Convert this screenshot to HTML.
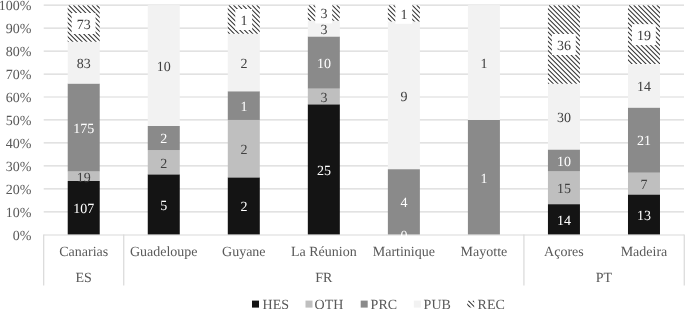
<!DOCTYPE html>
<html lang="en"><head><meta charset="utf-8"><title>Chart</title>
<style>html,body{margin:0;padding:0;background:#fff}svg{display:block}</style></head>
<body>
<svg width="685" height="309" viewBox="0 0 685 309" font-family="'Liberation Serif', 'Times New Roman', serif" font-size="14px" text-rendering="geometricPrecision">
<defs><path id="hl" d="M-87.16 0l84 84M-82.52 0l84 84M-77.88 0l84 84M-73.24 0l84 84M-68.60 0l84 84M-63.96 0l84 84M-59.32 0l84 84M-54.68 0l84 84M-50.04 0l84 84M-45.40 0l84 84M-40.76 0l84 84M-36.12 0l84 84M-31.48 0l84 84M-26.84 0l84 84M-22.20 0l84 84M-17.56 0l84 84M-12.92 0l84 84M-8.28 0l84 84M-3.64 0l84 84M1.00 0l84 84M5.64 0l84 84M10.28 0l84 84M14.92 0l84 84M19.56 0l84 84M24.20 0l84 84M28.84 0l84 84M33.48 0l84 84" stroke="#343434" stroke-width="1.06" fill="none"/></defs>
<rect width="685" height="309" fill="#fff"/>
<text x="31.3" y="240" text-anchor="end" fill="#595959">0%</text>
<line x1="43.7" x2="684.0" y1="211.79" y2="211.79" stroke="#d9d9d9" stroke-width="1.2"/>
<text x="31.3" y="217" text-anchor="end" fill="#595959">10%</text>
<line x1="43.7" x2="684.0" y1="188.83" y2="188.83" stroke="#d9d9d9" stroke-width="1.2"/>
<text x="31.3" y="194" text-anchor="end" fill="#595959">20%</text>
<line x1="43.7" x2="684.0" y1="165.87" y2="165.87" stroke="#d9d9d9" stroke-width="1.2"/>
<text x="31.3" y="171" text-anchor="end" fill="#595959">30%</text>
<line x1="43.7" x2="684.0" y1="142.91" y2="142.91" stroke="#d9d9d9" stroke-width="1.2"/>
<text x="31.3" y="148" text-anchor="end" fill="#595959">40%</text>
<line x1="43.7" x2="684.0" y1="119.95" y2="119.95" stroke="#d9d9d9" stroke-width="1.2"/>
<text x="31.3" y="125" text-anchor="end" fill="#595959">50%</text>
<line x1="43.7" x2="684.0" y1="96.99" y2="96.99" stroke="#d9d9d9" stroke-width="1.2"/>
<text x="31.3" y="102" text-anchor="end" fill="#595959">60%</text>
<line x1="43.7" x2="684.0" y1="74.03" y2="74.03" stroke="#d9d9d9" stroke-width="1.2"/>
<text x="31.3" y="79" text-anchor="end" fill="#595959">70%</text>
<line x1="43.7" x2="684.0" y1="51.07" y2="51.07" stroke="#d9d9d9" stroke-width="1.2"/>
<text x="31.3" y="56" text-anchor="end" fill="#595959">80%</text>
<line x1="43.7" x2="684.0" y1="28.11" y2="28.11" stroke="#d9d9d9" stroke-width="1.2"/>
<text x="31.3" y="33" text-anchor="end" fill="#595959">90%</text>
<line x1="43.7" x2="684.0" y1="5.15" y2="5.15" stroke="#d9d9d9" stroke-width="1.2"/>
<text x="31.3" y="10" text-anchor="end" fill="#595959">100%</text>
<rect x="67.72" y="180.99" width="32" height="53.76" fill="#141414"/>
<rect x="67.72" y="171.45" width="32" height="9.55" fill="#bfbfbf"/>
<rect x="67.72" y="83.53" width="32" height="87.92" fill="#8a8a8a"/>
<rect x="67.72" y="41.83" width="32" height="41.70" fill="#f2f2f2"/>
<rect x="67.72" y="5.15" width="32" height="36.68" fill="#fff"/>
<svg x="67.72" y="5.15" width="32" height="36.68"><use href="#hl"/></svg>
<rect x="147.76" y="174.33" width="32" height="60.42" fill="#141414"/>
<rect x="147.76" y="150.16" width="32" height="24.17" fill="#bfbfbf"/>
<rect x="147.76" y="125.99" width="32" height="24.17" fill="#8a8a8a"/>
<rect x="147.76" y="5.15" width="32" height="120.84" fill="#f2f2f2"/>
<rect x="227.79" y="177.35" width="32" height="57.40" fill="#141414"/>
<rect x="227.79" y="119.95" width="32" height="57.40" fill="#bfbfbf"/>
<rect x="227.79" y="91.25" width="32" height="28.70" fill="#8a8a8a"/>
<rect x="227.79" y="33.85" width="32" height="57.40" fill="#f2f2f2"/>
<rect x="227.79" y="5.15" width="32" height="28.70" fill="#fff"/>
<svg x="227.79" y="5.15" width="32" height="28.70"><use href="#hl"/></svg>
<rect x="307.83" y="104.30" width="32" height="130.45" fill="#141414"/>
<rect x="307.83" y="88.64" width="32" height="15.65" fill="#bfbfbf"/>
<rect x="307.83" y="36.46" width="32" height="52.18" fill="#8a8a8a"/>
<rect x="307.83" y="20.80" width="32" height="15.65" fill="#f2f2f2"/>
<rect x="307.83" y="5.15" width="32" height="15.65" fill="#fff"/>
<svg x="307.83" y="5.15" width="32" height="15.65"><use href="#hl"/></svg>
<rect x="387.87" y="169.15" width="32" height="65.60" fill="#8a8a8a"/>
<rect x="387.87" y="21.55" width="32" height="147.60" fill="#f2f2f2"/>
<rect x="387.87" y="5.15" width="32" height="16.40" fill="#fff"/>
<svg x="387.87" y="5.15" width="32" height="16.40"><use href="#hl"/></svg>
<rect x="467.91" y="119.95" width="32" height="114.80" fill="#8a8a8a"/>
<rect x="467.91" y="5.15" width="32" height="114.80" fill="#f2f2f2"/>
<rect x="547.94" y="204.14" width="32" height="30.61" fill="#141414"/>
<rect x="547.94" y="171.34" width="32" height="32.80" fill="#bfbfbf"/>
<rect x="547.94" y="149.47" width="32" height="21.87" fill="#8a8a8a"/>
<rect x="547.94" y="83.87" width="32" height="65.60" fill="#f2f2f2"/>
<rect x="547.94" y="5.15" width="32" height="78.72" fill="#fff"/>
<svg x="547.94" y="5.15" width="32" height="78.72"><use href="#hl"/></svg>
<rect x="627.98" y="194.41" width="32" height="40.34" fill="#141414"/>
<rect x="627.98" y="172.70" width="32" height="21.72" fill="#bfbfbf"/>
<rect x="627.98" y="107.54" width="32" height="65.16" fill="#8a8a8a"/>
<rect x="627.98" y="64.10" width="32" height="43.44" fill="#f2f2f2"/>
<rect x="627.98" y="5.15" width="32" height="58.95" fill="#fff"/>
<svg x="627.98" y="5.15" width="32" height="58.95"><use href="#hl"/></svg>
<line x1="43.7" x2="684.0" y1="235.0" y2="235.0" stroke="#d9d9d9" stroke-width="1.2"/>
<text x="83.82" y="213" text-anchor="middle" fill="#ffffff">107</text>
<text x="83.82" y="182" text-anchor="middle" fill="#404040">19</text>
<text x="83.82" y="133" text-anchor="middle" fill="#ffffff">175</text>
<text x="83.82" y="68" text-anchor="middle" fill="#404040">83</text>
<rect x="71.67" y="12.99" width="23.90" height="21" fill="#fff"/>
<text x="83.82" y="29" text-anchor="middle" fill="#404040">73</text>
<text x="163.86" y="210" text-anchor="middle" fill="#ffffff">5</text>
<text x="163.86" y="168" text-anchor="middle" fill="#404040">2</text>
<text x="163.86" y="143" text-anchor="middle" fill="#ffffff">2</text>
<text x="163.86" y="71" text-anchor="middle" fill="#404040">10</text>
<text x="243.89" y="211" text-anchor="middle" fill="#ffffff">2</text>
<text x="243.89" y="154" text-anchor="middle" fill="#404040">2</text>
<text x="243.89" y="111" text-anchor="middle" fill="#ffffff">1</text>
<text x="243.89" y="68" text-anchor="middle" fill="#404040">2</text>
<rect x="235.24" y="9.00" width="16.90" height="21" fill="#fff"/>
<text x="243.89" y="25" text-anchor="middle" fill="#404040">1</text>
<text x="323.93" y="175" text-anchor="middle" fill="#ffffff">25</text>
<text x="323.93" y="102" text-anchor="middle" fill="#404040">3</text>
<text x="323.93" y="68" text-anchor="middle" fill="#ffffff">10</text>
<text x="323.93" y="34" text-anchor="middle" fill="#404040">3</text>
<rect x="315.28" y="2.48" width="16.90" height="21" fill="#fff"/>
<text x="323.93" y="18" text-anchor="middle" fill="#404040">3</text>
<text x="403.97" y="240" text-anchor="middle" fill="#ffffff">0</text>
<text x="403.97" y="207" text-anchor="middle" fill="#ffffff">4</text>
<text x="403.97" y="101" text-anchor="middle" fill="#404040">9</text>
<rect x="395.32" y="2.85" width="16.90" height="21" fill="#fff"/>
<text x="403.97" y="19" text-anchor="middle" fill="#404040">1</text>
<text x="484.01" y="183" text-anchor="middle" fill="#ffffff">1</text>
<text x="484.01" y="68" text-anchor="middle" fill="#404040">1</text>
<text x="564.04" y="225" text-anchor="middle" fill="#ffffff">14</text>
<text x="564.04" y="193" text-anchor="middle" fill="#404040">15</text>
<text x="564.04" y="166" text-anchor="middle" fill="#ffffff">10</text>
<text x="564.04" y="122" text-anchor="middle" fill="#404040">30</text>
<rect x="551.89" y="34.01" width="23.90" height="21" fill="#fff"/>
<text x="564.04" y="50" text-anchor="middle" fill="#404040">36</text>
<text x="644.08" y="220" text-anchor="middle" fill="#ffffff">13</text>
<text x="644.08" y="189" text-anchor="middle" fill="#404040">7</text>
<text x="644.08" y="145" text-anchor="middle" fill="#ffffff">21</text>
<text x="644.08" y="91" text-anchor="middle" fill="#404040">14</text>
<rect x="631.93" y="24.13" width="23.90" height="21" fill="#fff"/>
<text x="644.08" y="40" text-anchor="middle" fill="#404040">19</text>
<line x1="43.70" x2="43.70" y1="234.4" y2="285.6" stroke="#d9d9d9" stroke-width="1.2"/>
<line x1="123.74" x2="123.74" y1="234.4" y2="285.6" stroke="#d9d9d9" stroke-width="1.2"/>
<line x1="523.92" x2="523.92" y1="234.4" y2="285.6" stroke="#d9d9d9" stroke-width="1.2"/>
<line x1="684.25" x2="684.25" y1="234.4" y2="285.6" stroke="#d9d9d9" stroke-width="1.2"/>
<text x="83.72" y="256" text-anchor="middle" fill="#595959">Canarias</text>
<text x="163.76" y="256" text-anchor="middle" fill="#595959">Guadeloupe</text>
<text x="243.79" y="256" text-anchor="middle" fill="#595959">Guyane</text>
<text x="323.83" y="256" text-anchor="middle" fill="#595959">La Réunion</text>
<text x="403.87" y="256" text-anchor="middle" fill="#595959">Martinique</text>
<text x="483.91" y="256" text-anchor="middle" fill="#595959">Mayotte</text>
<text x="563.94" y="256" text-anchor="middle" fill="#595959">Açores</text>
<text x="643.98" y="256" text-anchor="middle" fill="#595959">Madeira</text>
<text x="83.72" y="282" text-anchor="middle" fill="#595959">ES</text>
<text x="323.83" y="282" text-anchor="middle" fill="#595959">FR</text>
<text x="603.96" y="282" text-anchor="middle" fill="#595959">PT</text>
<rect x="252" y="300.6" width="7" height="7" fill="#141414"/>
<text x="262.6" y="309" fill="#595959">HES</text>
<rect x="305.5" y="300.6" width="7" height="7" fill="#bfbfbf"/>
<text x="314.6" y="309" fill="#595959">OTH</text>
<rect x="360.7" y="300.6" width="7" height="7" fill="#8a8a8a"/>
<text x="370.6" y="309" fill="#595959">PRC</text>
<rect x="413.8" y="300.6" width="7" height="7" fill="#f2f2f2"/>
<text x="423.6" y="309" fill="#595959">PUB</text>
<svg x="467.2" y="300.6" width="7" height="7"><use href="#hl"/></svg>
<text x="477.6" y="309" fill="#595959">REC</text>
</svg>
</body></html>
